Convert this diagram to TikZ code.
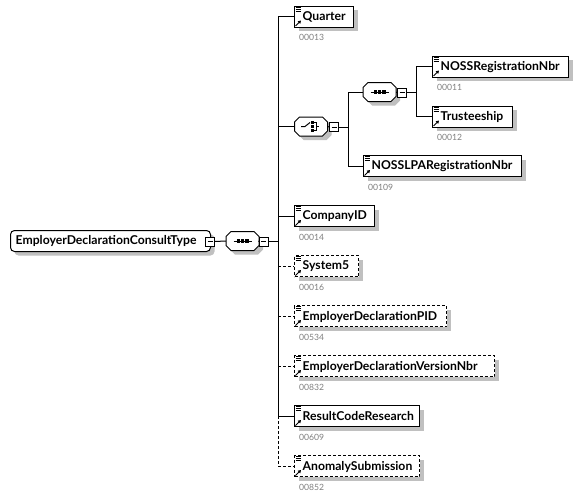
\documentclass[tikz,border=0pt]{standalone}
\usepackage{fontspec}
\setmainfont{Lato}
\usetikzlibrary{shadows,arrows.meta,calc}
\definecolor{lblgray}{RGB}{128,128,128}
\definecolor{shgray}{RGB}{192,192,192}
\tikzset{
  x=1pt, y=-1pt,
  conn/.style={line width=1pt},
  optconn/.style={line width=1pt, dash pattern=on 3pt off 2pt},
  elem/.style={draw, fill=white, line width=1pt, minimum height=21pt, inner sep=0pt, anchor=west,
    drop shadow={shadow xshift=4pt, shadow yshift=-4pt, fill=shgray, opacity=1}},
  optelem/.style={elem, dash pattern=on 3pt off 2pt},
  etext/.style={font=\bfseries\fontsize{12.2}{14}\selectfont, anchor=west, inner sep=0pt},
  lbl/.style={font=\fontsize{8.6}{10}\selectfont, text=lblgray, anchor=west, inner sep=0pt},
  minus/.style={draw, fill=white, line width=1pt, minimum size=9pt, inner sep=0pt,
    path picture={\draw[line width=0.8pt] ([xshift=2pt]path picture bounding box.west) -- ([xshift=-2pt]path picture bounding box.east);}},
  octa/.style={minimum width=33pt, minimum height=19pt, inner sep=0pt},
}
\newcommand\drawocta[1]{%
  \fill[shgray, shift={($(#1.center)+(4,4)$)}] (-16.5,-4.5) -- (-11.5,-9.5) -- (11.5,-9.5) -- (16.5,-4.5) -- (16.5,4.5) -- (11.5,9.5) -- (-11.5,9.5) -- (-16.5,4.5) -- cycle;
  \draw[fill=white, line width=1pt, shift={(#1.center)}] (-16.5,-4.5) -- (-11.5,-9.5) -- (11.5,-9.5) -- (16.5,-4.5) -- (16.5,4.5) -- (11.5,9.5) -- (-11.5,9.5) -- (-16.5,4.5) -- cycle;}
\newcommand\seqicon[1]{%
  \begin{scope}[shift={(#1.center)}]
  \draw[line width=1pt] (-9,0) -- (9,0);
  \fill (-6,-1.7) rectangle (-2.6,1.7);
  \fill (-1.7,-1.7) rectangle (1.7,1.7);
  \fill (2.6,-1.7) rectangle (6,1.7);
  \end{scope}}
\newcommand\elemicons[1]{%
  \foreach \d in {1.5,3.5,5.5} {\draw[line width=0.8pt] ([shift={(1.5,\d)}]#1.north west) -- ++(5,0);}
  \draw[line width=0.9pt, -{Triangle[length=3pt,width=3.5pt]}] ([shift={(1.5,-1.5)}]#1.south west) -- ++(5.5,-5.5);}
\begin{document}
\begin{tikzpicture}
\useasboundingbox (0,0) rectangle (587,498);
\fill[white] (0,0) rectangle (587,498);

% root
\node[draw, fill=white, line width=1pt, rounded corners=4pt, minimum width=200pt, minimum height=21pt, inner sep=0pt, anchor=west,
  drop shadow={shadow xshift=4pt, shadow yshift=-4pt, fill=shgray, opacity=1}] (root) at (10,241) {};
\node[etext] (roott) at ([xshift=5.5pt]root.west) {EmployerDeclarationConsultType};
\node[minus] (rootm) at (210,241.5) {};

% main sequence
\node[octa] (seq) at (242.5,241) {};
\drawocta{seq}
\seqicon{seq}
\node[minus] (seqm) at (263.5,241.5) {};
\draw[conn] (rootm.east) -- (seq.west);
\coordinate (bar) at (278,0);

% choice
\node[octa] (cho) at (311,126.5) {};
\node[minus] (chom) at (334,127) {};
\coordinate (cbar) at (348,0);

% inner seq
\node[octa] (seq2) at (379.5,92) {};
\node[minus] (seq2m) at (402,92.5) {};
\coordinate (sbar) at (416,0);

% elements
\node[elem, minimum width=59pt] (quarter) at (294,16.5) {};
\node[elem, minimum width=136pt] (noss) at (432,66.5) {};
\node[elem, minimum width=80pt] (trust) at (432,116.5) {};
\node[elem, minimum width=158pt] (lpa) at (363,166) {};
\node[elem, minimum width=80pt] (comp) at (294,216) {};
\node[optelem, minimum width=64pt] (sys) at (294,266) {};
\node[optelem, minimum width=152pt] (pid) at (294,316) {};
\node[optelem, minimum width=200pt] (ver) at (294,366) {};
\node[elem, minimum width=125pt] (res) at (294,416) {};
\node[optelem, minimum width=125pt] (ano) at (294,466) {};

\foreach \n/\t/\l in {quarter/Quarter/00013, noss/NOSSRegistrationNbr/00011, trust/Trusteeship/00012,
  lpa/NOSSLPARegistrationNbr/00109, comp/CompanyID/00014, sys/System5/00016,
  pid/EmployerDeclarationPID/00534, ver/EmployerDeclarationVersionNbr/00832,
  res/ResultCodeResearch/00609, ano/AnomalySubmission/00852} {
  \elemicons{\n}
  \node[etext] (\n-t) at ([xshift=8.5pt,yshift=-0.5pt]\n.west) {\t};
  \node[lbl] (\n-l) at ([shift={(5,10)}]\n.south west) {\l};
}

% main bar
\draw[conn] (seqm.east) -- (seqm.east -| bar);
\draw[conn] (quarter.west -| bar) -- (res.west -| bar);
\draw[optconn] (res.west -| bar) -- (ano.west -| bar);
\draw[conn] (quarter.west -| bar) -- (quarter.west);
\draw[conn] (cho.west -| bar) -- (cho.west);
\draw[conn] (comp.west -| bar) -- (comp.west);
\draw[optconn] (sys.west -| bar) -- (sys.west);
\draw[optconn] (pid.west -| bar) -- (pid.west);
\draw[optconn] (ver.west -| bar) -- (ver.west);
\draw[conn] (res.west -| bar) -- (res.west);
\draw[optconn] (ano.west -| bar) -- (ano.west);

% choice
\drawocta{cho}
\node[minus] at (chom) {};
\draw[conn] (cho.east) -- (chom.west);
\begin{scope}[shift={(cho.center)}, line width=1pt]
  \draw (-10,0) -- (-6,0) -- (-1,-4);
  \fill (0.3,-5.2) rectangle (3.2,-2.3);
  \fill (0.3,-1.4) rectangle (3.2,1.4);
  \fill (0.3,2.3) rectangle (3.2,5.2);
  \draw[line width=0.8pt] (3,-3.7) -- (5,-3.7) -- (5,3.7) -- (3,3.7);
  \draw (5,0) -- (8,0);
\end{scope}
\draw[conn] (chom.east) -- (chom.east -| cbar);
\draw[conn] (seq2.west -| cbar) -- (lpa.west -| cbar);
\draw[conn] (seq2.west -| cbar) -- (seq2.west);
\draw[conn] (lpa.west -| cbar) -- (lpa.west);

% inner seq
\drawocta{seq2}
\seqicon{seq2}
\node[minus] at (seq2m) {};
\draw[conn] (seq2.east) -- (seq2m.west);
\draw[conn] (seq2m.east) -- (seq2m.east -| sbar);
\draw[conn] (noss.west -| sbar) -- (trust.west -| sbar);
\draw[conn] (noss.west -| sbar) -- (noss.west);
\draw[conn] (trust.west -| sbar) -- (trust.west);

\draw[conn] (seq.east) -- (seqm.west);
\end{tikzpicture}
\end{document}
